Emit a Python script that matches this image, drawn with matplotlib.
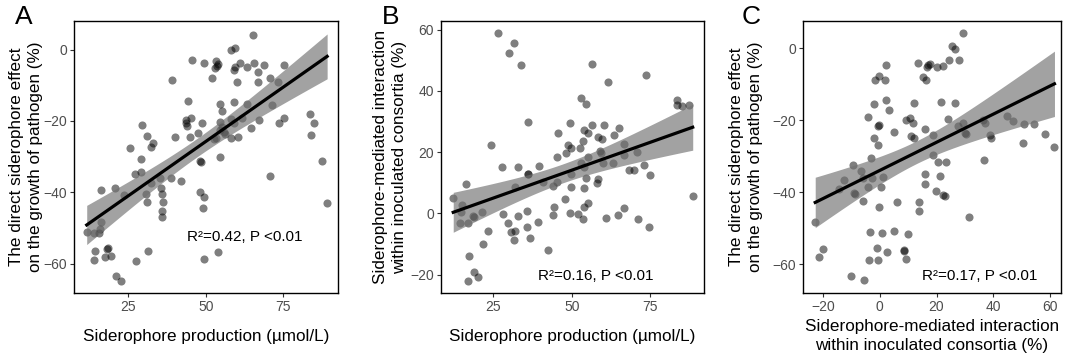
import numpy as np
import matplotlib
matplotlib.use("Agg")
import matplotlib.pyplot as plt

plt.rcParams['font.family'] = ['Liberation Sans', 'DejaVu Sans']

# --- Panel A: siderophore production vs direct effect on pathogen ---
a_prod = [65.1, 45.5, 49.5, 53.2, 53.5, 53.0, 53.8, 58.0, 59.3, 59.3, 59.0, 60.9, 63.3, 65.6, 66.8,
          68.6, 75.2, 39.2, 51.9, 60.1, 66.8, 70.6, 73.3, 44.1, 54.6, 59.0, 63.3, 71.4, 55.2, 43.5,
          43.5, 43.8, 45.3, 48.9, 47.6, 44.9, 40.1, 54.6, 55.2, 54.6, 55.7, 56.2, 52.5, 53.2, 58.0,
          59.0, 60.5, 58.0, 61.6, 64.5, 67.0, 73.7, 75.3, 83.5, 85.0, 84.0, 87.6, 89.1, 70.8, 54.6,
          48.4, 48.2, 29.4, 31.1, 33.1, 32.2, 25.5, 29.0, 29.0, 27.2, 32.2, 38.7, 41.9, 35.2, 35.6,
          36.0, 36.2, 36.0, 35.8, 30.6, 30.9, 48.0, 49.4, 49.1, 20.7, 23.6, 16.3, 11.6, 14.0, 15.6,
          15.8, 16.1, 14.2, 14.0, 18.2, 18.3, 17.4, 19.5, 27.6, 31.4, 21.0, 22.6, 49.4, 53.9]
a_effect = [4.2, -3.0, -3.7, -3.2, -4.5, -5.2, -4.0, -0.2, 0.3, -4.8, -5.8, -3.9, -4.8, -3.9, -6.2,
            -4.4, -4.4, -8.4, -7.9, -9.0, -9.0, -8.1, -9.0, -14.5, -15.3, -14.8, -15.3, -15.5, -17.2, -19.7,
            -20.6, -21.5, -19.3, -20.7, -23.4, -24.4, -24.6, -20.4, -21.6, -22.6, -23.0, -23.6, -25.1, -24.8, -19.5,
            -20.7, -24.4, -24.8, -19.3, -21.9, -19.7, -20.5, -19.1, -18.1, -20.7, -23.9, -31.2, -43.0, -35.5, -30.0,
            -31.5, -31.2, -21.0, -24.1, -26.3, -27.2, -27.5, -30.7, -34.2, -35.0, -37.4, -36.0, -36.8, -35.9, -38.8,
            -40.5, -42.6, -45.1, -46.9, -40.4, -42.6, -39.8, -41.2, -44.4, -38.7, -40.7, -39.3, -51.0, -51.4, -51.4,
            -50.4, -48.2, -56.5, -59.0, -55.9, -55.5, -58.1, -57.9, -59.2, -56.3, -63.3, -64.7, -58.7, -56.7]

# --- Panel B: siderophore production vs siderophore-mediated interaction ---
b_prod = [26.4, 31.7, 30.1, 33.8, 56.5, 61.5, 73.7, 53.0, 54.6, 36.0, 49.3, 56.4, 60.4, 65.2, 54.0,
          55.3, 45.7, 58.3, 59.6, 63.4, 53.5, 66.8, 48.7, 49.8, 48.2, 24.3, 45.2, 52.8, 59.1, 59.4,
          66.8, 70.8, 55.1, 53.0, 53.9, 59.9, 63.1, 68.2, 70.0, 73.2, 75.1, 49.8, 54.6, 58.3, 58.1,
          49.8, 54.0, 27.8, 32.8, 36.2, 36.0, 39.5, 16.3, 12.2, 31.9, 40.8, 44.0, 45.3, 55.1, 54.0,
          44.5, 47.9, 49.6, 52.1, 53.5, 44.0, 61.0, 64.7, 66.8, 71.1, 74.8, 83.6, 83.6, 85.2, 87.3,
          88.6, 14.9, 14.5, 17.0, 18.4, 18.9, 21.3, 14.7, 28.2, 33.0, 35.7, 29.8, 30.7, 31.9, 31.5,
          35.8, 36.6, 39.2, 23.2, 21.8, 42.4, 17.1, 18.9, 20.2, 17.0]
b_interaction = [58.9, 55.6, 52.2, 48.4, 48.7, 42.9, 45.1, 37.5, 35.6, 29.9, 29.5, 28.8, 28.8, 27.9, 27.2,
                 26.3, 26.1, 24.8, 24.3, 25.5, 23.7, 22.8, 22.3, 21.4, 19.6, 22.3, 18.3, 21.2, 20.4, 19.6,
                 19.2, 20.1, 18.5, 16.3, 15.2, 16.3, 16.3, 14.3, 14.1, 15.7, 12.4, 12.8, 11.4, 11.1, 9.8,
                 8.7, 8.2, 15.2, 15.2, 13.0, 12.7, 15.5, 9.6, 4.9, 8.7, 10.3, 9.0, 10.1, 3.3, 2.0,
                 2.2, 4.7, 0.0, -0.3, -1.9, -0.6, -1.6, -0.6, 1.8, -2.0, -4.4, 36.9, 35.3, 35.0, 35.3,
                 5.6, 2.7, -3.1, -3.3, -0.9, -1.1, 0.3, 0.5, -0.3, -0.9, 0.8, -3.1, -6.0, -5.7, -8.7,
                 -4.6, -8.2, -2.7, -5.7, -10.0, -12.0, -13.9, -19.1, -20.7, -22.1]

# --- Panel C: siderophore-mediated interaction vs direct effect on pathogen ---
c_interaction = [2.2, -0.4, -1.5, 2.0, 13.4, 16.9, 16.6, 15.4, 16.3, -1.9, 2.2, 3.2, -4.2, 11.9, -0.6,
                 -0.4, 4.9, 9.3, 10.7, 11.6, -1.9, -0.7, 11.0, 12.2, 15.8, -3.1, 1.1, -6.6, -2.7, -4.2,
                 -12.5, -14.5, -8.9, -8.6, 0.5, -6.0, -0.1, 6.1, 13.8, 14.0, 15.8, 16.1, -22.7, -19.9, -21.5,
                 -3.4, 0.8, 5.2, 10.1, -1.1, 2.6, 8.5, 8.7, 9.1, -3.6, -0.6, -10.1, -5.7, 29.2, 25.6,
                 26.5, 24.4, 28.0, 17.6, 20.0, 22.1, 21.5, 26.5, 24.1, 44.9, 47.0, 50.8, 54.4, 36.4, 37.0,
                 30.0, 30.3, 38.8, 39.2, 27.6, 29.4, 58.2, 50.6, 61.5, 36.8, 18.8, 20.6, 23.3, 21.2, 19.8,
                 22.3, 22.9, 31.5, 18.6, -9.4, -5.9]
c_effect = [-4.8, -7.8, -8.9, -8.9, -4.1, -4.8, -5.3, -8.0, -8.8, -15.6, -14.5, -17.1, -19.1, -15.2, -21.7,
            -21.4, -23.4, -20.0, -19.3, -20.8, -25.1, -27.0, -24.5, -25.1, -22.6, -30.6, -35.7, -34.1, -36.2, -38.5,
            -36.6, -39.2, -40.3, -40.6, -38.5, -42.4, -44.2, -42.8, -42.7, -45.2, -35.1, -37.8, -48.2, -55.9, -57.9,
            -51.1, -51.4, -50.9, -51.5, -55.6, -56.5, -56.0, -56.4, -58.6, -58.8, -58.8, -63.4, -64.5, 4.2, 0.5,
            -0.4, -3.2, -3.4, -4.3, -5.3, -5.1, -15.0, -15.2, -19.8, -18.9, -20.3, -21.2, -21.1, -20.0, -20.8,
            -23.5, -24.0, -24.2, -24.9, -21.7, -20.9, -24.0, -26.3, -27.6, -31.1, -29.7, -31.6, -31.6, -35.5, -39.6,
            -40.8, -41.0, -46.8, -24.2, -32.5, -36.0]

panels = [
    dict(x=a_prod, y=a_effect, letter="A",
         xlabel="Siderophore production (\u00b5mol/L)",
         ylabel="The direct siderophore effect\non the growth of pathogen (%)",
         xlim=(7.5, 92.6), ylim=(-68.2, 8.0), xticks=[25, 50, 75], yticks=[-60, -40, -20, 0],
         note="R\u00b2=0.42, P <0.01", note_xy=(62.5, -52.4)),
    dict(x=b_prod, y=b_interaction, letter="B",
         xlabel="Siderophore production (\u00b5mol/L)",
         ylabel="Siderophore-mediated interaction\nwithin inoculated consortia (%)",
         xlim=(8.3, 92.2), ylim=(-26.0, 62.8), xticks=[25, 50, 75], yticks=[-20, 0, 20, 40, 60],
         note="R\u00b2=0.16, P <0.01", note_xy=(57.6, -20.4)),
    dict(x=c_interaction, y=c_effect, letter="C",
         xlabel="Siderophore-mediated interaction\nwithin inoculated consortia (%)",
         ylabel="The direct siderophore effect\non the growth of pathogen (%)",
         xlim=(-27.0, 63.8), ylim=(-68.0, 7.5), xticks=[-20, 0, 20, 40, 60], yticks=[-60, -40, -20, 0],
         note="R\u00b2=0.17, P <0.01", note_xy=(35.3, -63.2)),
]

# axes boxes in pixels (left, right) measured on the 1068x359 canvas
boxes = [(74, 338), (441, 704), (803, 1061)]
ylab_x = [-0.118, -0.129, -0.155]
xlab_y = [-0.134, -0.134, -0.094]
letter_x = [15, 382, 742]

fig = plt.figure(figsize=(10.68, 3.59), dpi=100)
W, H = 1068, 359
bottom = 1 - 293 / H
height = (293 - 21) / H

for p, (l, r), lx, ly, ltx in zip(panels, boxes, ylab_x, xlab_y, letter_x):
    ax = fig.add_axes([l / W, bottom, (r - l) / W, height])
    x = np.asarray(p["x"])
    y = np.asarray(p["y"])
    ax.scatter(x, y, s=34, color="black", alpha=0.5, linewidths=0, zorder=2)

    # linear fit with 95% confidence band (like geom_smooth(method="lm"))
    slope, inter = np.polyfit(x, y, 1)
    xs = np.linspace(x.min(), x.max(), 100)
    fit = inter + slope * xs
    n = len(x)
    resid = y - (inter + slope * x)
    s = np.sqrt(np.sum(resid ** 2) / (n - 2))
    sxx = np.sum((x - x.mean()) ** 2)
    se = s * np.sqrt(1 / n + (xs - x.mean()) ** 2 / sxx)
    ax.fill_between(xs, fit - 1.98 * se, fit + 1.98 * se, color="#707070", alpha=0.65,
                    linewidth=0, zorder=3)
    ax.plot(xs, fit, color="black", lw=2.3, zorder=4)

    ax.set_xlim(*p["xlim"])
    ax.set_ylim(*p["ylim"])
    ax.set_xticks(p["xticks"])
    ax.set_yticks(p["yticks"])
    ax.tick_params(direction="out", length=3, width=0.8, color="#333333",
                   labelcolor="#4d4d4d", labelsize=10, pad=2)
    for sp in ax.spines.values():
        sp.set_linewidth(1.0)
        sp.set_color("black")

    ax.set_xlabel(p["xlabel"], fontsize=12.3, linespacing=1.35)
    ax.set_ylabel(p["ylabel"], fontsize=12.3, linespacing=1.35)
    ax.yaxis.set_label_coords(lx, 0.5)
    ax.xaxis.set_label_coords(0.5, ly)

    ax.text(p["note_xy"][0], p["note_xy"][1], p["note"], fontsize=11,
            ha="center", va="center", zorder=5)

    fig.text(ltx / W, 1 - 24 / H, p["letter"], fontsize=19, ha="left", va="baseline")

fig.savefig("out.png", dpi=100)
